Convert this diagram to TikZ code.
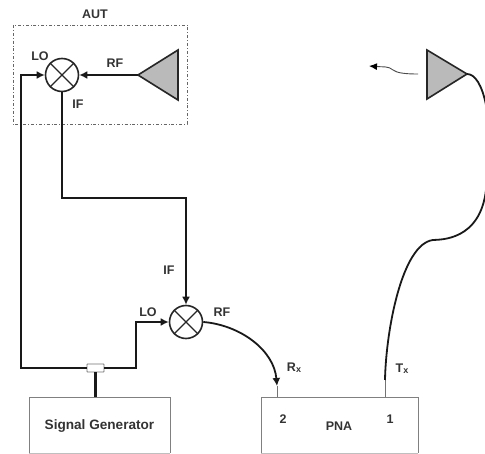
\documentclass[tikz,border=0pt]{standalone}
\usepackage{fontspec}
\setmainfont{Liberation Sans}
\usetikzlibrary{arrows.meta}
\tikzset{
 wire/.style={line width=2.2pt,draw=black!90},
 arrowwire/.style={wire,-{Latex[length=8pt,width=8pt]}},
 thinwire/.style={line width=0.8pt,draw=black!55},
 mixerbox/.style={circle,draw=black!85,line width=1.6pt,minimum size=33pt,inner sep=0pt},
 instr/.style={draw=black!50,line width=0.9pt},
 lab/.style={font=\bfseries\fontsize{12.5}{14}\selectfont,text=black!80,inner sep=0pt},
 horn/.style={draw=black!85,fill=black!27,line width=1.6pt,line join=miter}
}
\begin{document}
\begin{tikzpicture}[x=1pt,y=-1pt]
\useasboundingbox (0,0) rectangle (485,454);
% AUT box
\draw[black!60,line width=0.8pt,dash dot] (13,25) rectangle (187,124);
\node[lab] (aut) at (95,14) {AUT};
% Mixers
\node[mixerbox] (m1) at (62,75) {};
\draw[black!85,line width=1.3pt] (m1.north west)--(m1.south east) (m1.north east)--(m1.south west);
\node[mixerbox] (m2) at (186,322) {};
\draw[black!85,line width=1.3pt] (m2.north west)--(m2.south east) (m2.north east)--(m2.south west);
% Horns
\draw[horn] (138,75)--(178,50)--(178,100)--cycle;
\coordinate (h1) at (138,75);
\draw[horn] (467,74)--(427,50)--(427,99)--cycle;
\coordinate (h2) at (467,74);
% Coupler and instruments
\node[draw=black!55,fill=white,line width=0.9pt,minimum width=17pt,minimum height=8pt,inner sep=0pt,rounded corners=0.5pt] (cp) at (95.5,368) {};
\draw[instr] (29,453) -- (29,397) -- (170,397) -- (170,453);
\draw[black!25,line width=0.6pt] (29,453) -- (170,453);
\draw[instr] (261,453) -- (261,397) -- (418,397) -- (418,453);
\draw[black!25,line width=0.6pt] (261,453) -- (418,453);
\coordinate (sg) at (95.5,397);
\coordinate (p2) at (277,397);
\coordinate (p2a) at (277,386);
\coordinate (p1) at (385,397);
\coordinate (p1a) at (385,380);
% Wires
\draw[arrowwire] (h1) -- (m1.east);
\draw[arrowwire] (cp.west) -- (21,368) -- (21,75) -- (m1.west);
\draw[arrowwire] (m1.south) -- (62,198) -- (186,198) -- (m2.north);
\draw[arrowwire] (cp.east) -- (136,368) -- (136,322) -- (m2.west);
\draw[wire] (cp.south) -- (sg);
\draw[arrowwire,line width=1.8pt] (m2.east) .. controls (240,325) and (274,350) .. (p2a);
\draw[thinwire] (p2a) -- (p2);
\draw[thinwire] (p1a) -- (p1);
\begin{scope}
\clip (0,0) rectangle (485,454);
\draw[wire,line width=1.8pt] (p1a) .. controls (386,330) and (402,244) .. (433,240)
  .. controls (440,239.5) and (480,241) .. (486,190)
  .. controls (492,165) and (490,120) .. (486,105)
  .. controls (482,85) and (475,74) .. (h2);
\end{scope}
% Free-space arrow
\coordinate (w1) at (418,74);
\coordinate (w2) at (369,66);
\draw[black!70,line width=0.9pt,-{Latex[length=8pt,width=7pt,black]}] (w1) .. controls (405,74) and (397,73) .. (393,70) .. controls (389,66) and (382,67) .. (w2);
% Labels
\node[lab] (lo1) at (40,56) {LO};
\node[lab] (rf1) at (115,63) {RF};
\node[lab] (if1) at (78,104) {IF};
\node[lab] (if2) at (169,270) {IF};
\node[lab] (lo2) at (148,312) {LO};
\node[lab] (rf2) at (222,312) {RF};
\node[lab] (rx) at (294,368) {R\raisebox{-1pt}{\fontsize{9}{10}\selectfont x}};
\node[lab] (tx) at (402,369) {T\raisebox{-1pt}{\fontsize{9}{10}\selectfont x}};
\node[lab,font=\bfseries\fontsize{13.6}{15}\selectfont] (sgl) at (99.5,426) {Signal Generator};
\node[lab] (n2) at (283,419) {2};
\node[lab] (n1) at (390,419) {1};
\node[lab] (pna) at (339,426) {PNA};
\end{tikzpicture}
\end{document}
